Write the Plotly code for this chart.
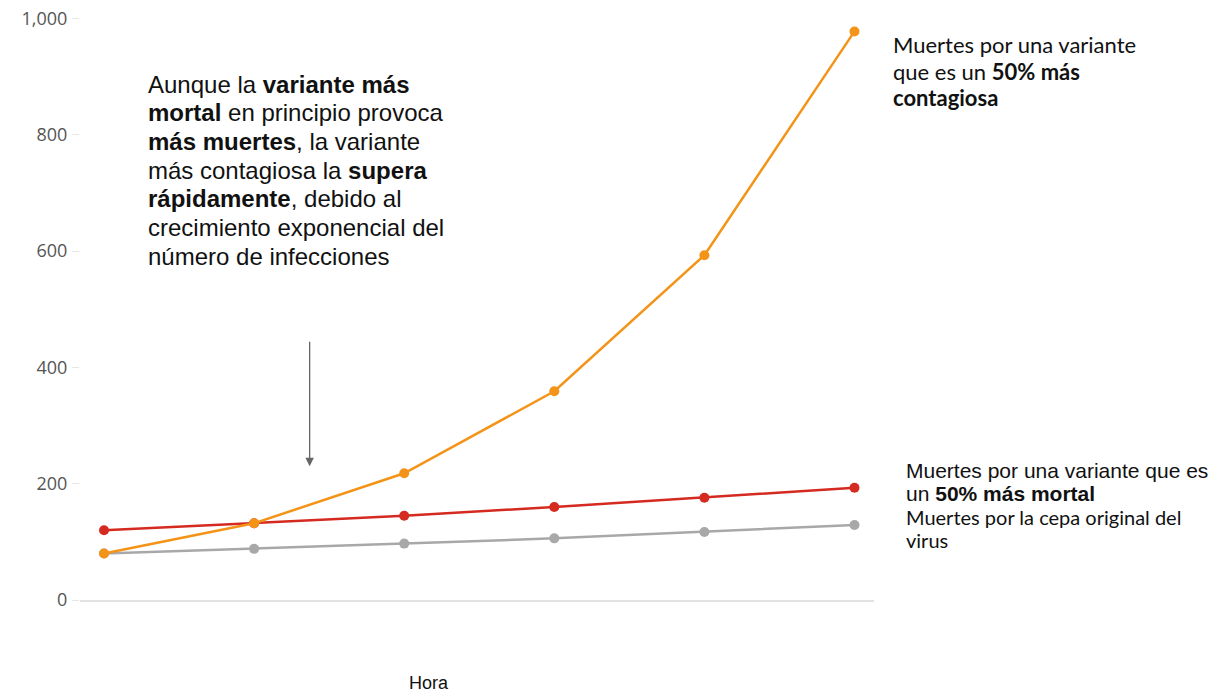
import plotly.graph_objects as go

# --- data ---
periods = [0, 1, 2, 3, 4, 5]
original = [80, 88, 97, 106, 117, 129]
mas_mortal = [120, 132, 145, 160, 176, 193]
mas_contagiosa = [80, 132, 218, 359, 593, 978]
y_ticks = [0, 200, 400, 600, 800, 1000]
y_tick_labels = ["0", "200", "400", "600", "800", "1,000"]

ORANGE = "#F39419"
RED = "#D42A20"
GRAY = "#A8A8A8"

fig = go.Figure()
fig.add_trace(go.Scatter(x=periods, y=original, mode="lines+markers",
                         line=dict(color=GRAY, width=2.5), marker=dict(size=10, color=GRAY),
                         name="original"))
fig.add_trace(go.Scatter(x=periods, y=mas_mortal, mode="lines+markers",
                         line=dict(color=RED, width=2.5), marker=dict(size=10, color=RED),
                         name="mortal"))
fig.add_trace(go.Scatter(x=periods, y=mas_contagiosa, mode="lines+markers",
                         line=dict(color=ORANGE, width=2.5), marker=dict(size=10, color=ORANGE),
                         name="contagiosa"))

W, H = 1212, 694
L, R_, T, B = 80, W - 874, 7, H - 600
pw, ph = W - L - R_, H - T - B


def px(x):
    return (x - L) / pw


def py(y):
    return (H - B - y) / ph


ann = []
left_lines = [
    "Aunque la <b>variante más</b>",
    "<b>mortal</b> en principio provoca",
    "<b>más muertes</b>, la variante",
    "más contagiosa la <b>supera</b>",
    "<b>rápidamente</b>, debido al",
    "crecimiento exponencial del",
    "número de infecciones",
]
for i, t in enumerate(left_lines):
    ann.append(dict(text=t, xref="paper", yref="paper", x=px(146), y=py(84 + i * 28.7),
                    xanchor="left", yanchor="middle", showarrow=False,
                    font=dict(family="Liberation Sans, Arial", size=24, color="#111")))

top_right = ["Muertes por una variante", "que es un <b>50% más</b>", "<b>contagiosa</b>"]
for i, t in enumerate(top_right):
    ann.append(dict(text=t, xref="paper", yref="paper", x=px(891), y=py(45 + i * 26),
                    xanchor="left", yanchor="middle", showarrow=False,
                    font=dict(family="Lato, Open Sans", size=22, color="#111")))

bottom_right = [
    ("Muertes por una variante que es", "Liberation Sans, Arial", 21),
    ("un <b>50% más mortal</b>", "Liberation Sans, Arial", 21),
    ("Muertes por la cepa original del", "Lato, Open Sans", 20),
    ("virus", "Lato, Open Sans", 20),
]
for i, (t, f, s) in enumerate(bottom_right):
    ann.append(dict(text=t, xref="paper", yref="paper", x=px(904), y=py(470 + i * 23.3),
                    xanchor="left", yanchor="middle", showarrow=False,
                    font=dict(family=f, size=s, color="#111")))

ann.append(dict(text="Hora", xref="paper", yref="paper", x=px(429), y=py(683),
                xanchor="center", yanchor="middle", showarrow=False,
                font=dict(family="Liberation Sans, Arial", size=18, color="#111")))

# arrow
ann.append(dict(x=1.37, y=230, xref="x", yref="y", ax=1.37, ay=447, axref="x", ayref="y",
                text="", showarrow=True, arrowhead=2, arrowsize=1.3, arrowwidth=1.3,
                arrowcolor="#666"))

fig.update_layout(
    width=W, height=H,
    margin=dict(l=L, r=R_, t=T, b=B, pad=0),
    paper_bgcolor="white", plot_bgcolor="white",
    showlegend=False,
    annotations=ann,
    xaxis=dict(range=[-0.16, 5.13], showticklabels=False, ticks="", showgrid=False,
               zeroline=False, showline=True, linecolor="#E2E2E2", linewidth=2),
    yaxis=dict(range=[0, 1020], tickvals=y_ticks, ticktext=y_tick_labels, showgrid=False,
               zeroline=False, showline=False, ticks="outside", ticklen=7, tickcolor="#E6E6E6",
               tickfont=dict(family="Open Sans", size=18, color="#555"), ticklabelstandoff=1),
)

fig.write_html("out.html")
